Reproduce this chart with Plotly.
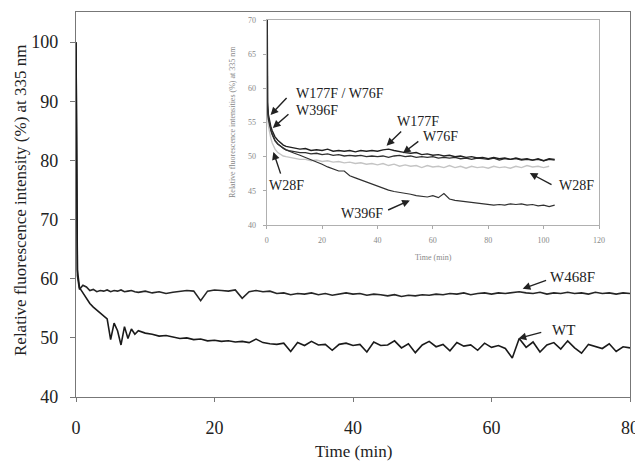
import plotly.graph_objects as go

# ---------------- main chart data ----------------
t_main = [0, 0.2, 0.5, 1, 1.5, 2, 2.5, 3, 3.5, 4, 4.5, 5, 5.5, 6, 6.5, 7, 7.5, 8, 8.5, 9,
          10, 11, 12, 13, 14, 15, 16, 17, 18, 19, 20, 21, 22, 23, 24, 25, 26, 27, 28, 29,
          30, 31, 32, 33, 34, 35, 36, 37, 38, 39, 40, 41, 42, 43, 44, 45, 46, 47, 48, 49,
          50, 51, 52, 53, 54, 55, 56, 57, 58, 59, 60, 61, 62, 63, 64, 65, 66, 67, 68, 69,
          70, 71, 72, 73, 74, 75, 76, 77, 78, 79, 80]

wt = [100, 61.5, 58.5, 57.6, 56.6, 55.8, 55.2, 54.7, 54.2, 53.7, 53.2, 49.7, 52.5, 51.2, 48.8, 51.9, 49.9, 51.5, 50.6, 51.2,
      50.8, 50.6, 50.3, 50.4, 50.1, 49.9, 50.0, 49.7, 49.8, 49.5, 49.6, 49.4, 49.5, 49.3, 49.4, 49.2, 49.8, 49.2, 49.0, 48.9,
      49.1, 47.7, 49.2, 48.7, 49.4, 48.8, 48.9, 47.9, 48.9, 49.1, 48.7, 48.9, 47.6, 49.3, 48.7, 48.8, 49.5, 48.3, 49.0, 47.5,
      48.8, 49.4, 48.5, 48.9, 47.8, 49.2, 48.6, 48.8, 47.9, 49.1, 48.4, 48.7, 48.2, 46.6, 49.9, 48.4, 49.3, 47.6, 48.8, 49.2,
      48.1, 49.5, 48.3, 47.4, 48.9, 48.5, 48.2, 49.0, 47.7, 48.5, 48.3]

w468f = [100, 60.5, 58.2, 58.9, 58.6, 58.0, 58.2, 57.8, 58.0, 57.9, 58.1, 57.8, 58.0, 57.9, 58.1, 57.8, 57.9, 58.0, 57.8, 57.7,
         57.9, 57.6, 57.8, 57.5, 57.7, 57.9, 58.0, 57.9, 56.3, 57.9, 58.1, 58.0, 57.9, 58.1, 56.7, 57.8, 58.0, 57.8, 57.9, 57.5,
         57.6, 57.3, 57.5, 57.4, 57.6, 57.3, 57.5, 57.2, 57.4, 57.6, 57.4, 57.5, 57.2, 57.4, 57.3, 57.1, 57.3, 57.0, 57.2, 57.1,
         57.3, 57.2, 57.4, 57.3, 57.5, 57.4, 57.6, 57.3, 57.5, 57.6, 57.4, 57.6, 57.5, 57.7, 57.8, 57.6, 57.5, 57.7, 57.4, 57.6,
         57.5, 57.7, 57.5, 57.6, 57.4, 57.7, 57.5, 57.6, 57.4, 57.6, 57.5]

main_xticks = [0, 20, 40, 60, 80]
main_yticks = [40, 50, 60, 70, 80, 90, 100]

# ---------------- inset data ----------------
t_in = [0, 0.3, 0.6, 1, 1.5, 2, 2.5, 3, 4, 5, 6, 7, 8,
        10, 12, 14, 16, 18, 20, 22, 24, 26, 28, 30, 32, 34, 36, 38, 40, 42, 44, 46, 48,
        50, 52, 54, 56, 58, 60, 62, 64, 66, 68, 70, 72, 74, 76, 78, 80, 82, 84, 86, 88,
        90, 92, 94, 96, 98, 100, 102, 104]

w177f = [100, 58.0, 56.2, 55.3, 54.4, 53.8, 53.3, 52.9, 52.4, 52.0, 51.7, 51.5, 51.4,
         51.2, 51.1, 51.2, 50.9, 51.0, 50.9, 51.1, 50.8, 50.9, 50.8, 50.9, 50.7, 50.9, 50.8, 50.9, 50.8, 51.0, 51.1, 50.9, 50.7,
         50.6, 50.5, 50.6, 50.3, 50.4, 50.2, 50.3, 50.1, 50.2, 50.0, 50.1, 49.9, 50.0, 49.8, 49.9, 49.7, 49.9, 49.7, 49.8, 49.6,
         49.8, 49.6, 49.7, 49.5, 49.7, 49.4, 49.7, 49.6]

w76f = [100, 57.0, 55.5, 54.6, 53.8, 53.2, 52.7, 52.3, 51.8, 51.5, 51.2, 51.0, 50.9,
        50.7, 50.6, 50.6, 50.4, 50.5, 50.3, 50.4, 50.2, 50.3, 50.1, 50.2, 50.1, 50.2, 50.0, 50.1, 50.0, 50.1, 49.9, 50.1, 50.2,
        50.0, 50.1, 49.9, 50.0, 49.9, 50.0, 49.8, 49.9, 49.8, 49.9, 49.7, 49.8, 49.6, 49.8, 49.7, 49.6, 49.8, 49.5, 49.7, 49.6,
        49.7, 49.5, 49.6, 49.5, 49.6, 49.4, 49.6, 49.5]

w28f = [100, 56.0, 54.5, 53.5, 52.7, 52.0, 51.5, 51.1, 50.6, 50.3, 50.1, 50.0, 49.9,
        49.7, 49.6, 49.6, 49.4, 49.5, 49.3, 49.4, 49.2, 49.3, 49.1, 49.2, 49.0, 49.1, 48.9, 49.0, 48.8, 49.0, 48.7, 48.9, 48.6,
        48.8, 48.6, 48.7, 48.4, 48.7, 48.5, 48.6, 48.4, 48.7, 48.4, 48.6, 48.3, 48.6, 48.4, 48.5, 48.3, 48.6, 48.4, 48.5, 48.3,
        48.6, 48.4, 48.7, 48.5, 48.6, 48.4, 48.6, None]

w396f = [100, 57.5, 55.8, 54.9, 54.0, 53.3, 52.8, 52.4, 51.9, 51.5, 51.2, 51.0, 50.8,
         50.5, 50.2, 49.9, 49.6, 49.2, 48.9, 48.5, 48.2, 47.9, 47.9, 47.2, 46.9, 46.6, 46.2, 45.9, 45.6, 45.3, 45.1, 44.9, 44.8,
         44.6, 44.5, 44.3, 44.2, 44.1, 44.3, 44.0, 44.6, 43.8, 43.6, 43.5, 43.4, 43.3, 43.1, 43.0, 42.9, 42.9, 43.0, 42.9, 43.1,
         43.0, 43.1, 42.9, 43.0, 42.8, 42.9, 42.7, 42.9]

inset_xticks = [0, 20, 40, 60, 80, 100, 120]
inset_yticks = [40, 45, 50, 55, 60, 65, 70]

SERIF = "Liberation Serif, Times New Roman, serif"
OFF = 8  # page body margin
W, H = 643 - OFF, 465 - OFF

def px_x(p):
    return (p - OFF) / W

def px_y(p):
    return 1 - (p - OFF) / H

fig = go.Figure()

fig.add_trace(go.Scatter(x=t_main, y=w468f, mode="lines", line=dict(color="#262626", width=1.6),
                         xaxis="x", yaxis="y", showlegend=False, cliponaxis=True))
fig.add_trace(go.Scatter(x=t_main, y=wt, mode="lines", line=dict(color="#1a1a1a", width=1.6),
                         xaxis="x", yaxis="y", showlegend=False, cliponaxis=True))

fig.add_trace(go.Scatter(x=t_in, y=w28f, mode="lines", line=dict(color="#c4c4c4", width=1.4),
                         xaxis="x2", yaxis="y2", showlegend=False, cliponaxis=True))
fig.add_trace(go.Scatter(x=t_in, y=w76f, mode="lines", line=dict(color="#303030", width=1.3),
                         xaxis="x2", yaxis="y2", showlegend=False, cliponaxis=True))
fig.add_trace(go.Scatter(x=t_in, y=w177f, mode="lines", line=dict(color="#202020", width=1.4),
                         xaxis="x2", yaxis="y2", showlegend=False, cliponaxis=True))
fig.add_trace(go.Scatter(x=t_in, y=w396f, mode="lines", line=dict(color="#303030", width=1.2),
                         xaxis="x2", yaxis="y2", showlegend=False, cliponaxis=True))

main_tickfont = dict(family=SERIF, size=18, color="#222")
inset_tickfont = dict(family=SERIF, size=8, color="#888")

fig.update_layout(
    width=W, height=H, autosize=False,
    margin=dict(l=0, r=0, t=0, b=0, autoexpand=False),
    paper_bgcolor="white", plot_bgcolor="white",
    xaxis=dict(domain=[px_x(76), px_x(630)], range=[0, 80], tickvals=main_xticks,
               showgrid=False, zeroline=False, showline=True, mirror=True, automargin=False,
               linecolor="#777", linewidth=1.2, ticks="outside", ticklen=4, tickcolor="#777",
               tickfont=main_tickfont, ticklabelstandoff=10, anchor="y"),
    yaxis=dict(domain=[px_y(397), px_y(12)], range=[40, 105.1], tickvals=main_yticks,
               showgrid=False, zeroline=False, showline=True, mirror=True, automargin=False,
               linecolor="#777", linewidth=1.2, ticks="outside", ticklen=5, tickcolor="#777",
               tickfont=main_tickfont, ticklabelstandoff=8, anchor="x"),
    xaxis2=dict(domain=[px_x(266.7), px_x(599)], range=[0, 120], tickvals=inset_xticks,
                showgrid=False, zeroline=False, showline=True, mirror=True, automargin=False,
                linecolor="#b0b0b0", linewidth=1, ticks="outside", ticklen=3, tickcolor="#aaa",
                tickfont=inset_tickfont, ticklabelstandoff=4, anchor="y2"),
    yaxis2=dict(domain=[px_y(225), px_y(20)], range=[40, 70], tickvals=inset_yticks,
                showgrid=False, zeroline=False, showline=True, mirror=True, automargin=False,
                linecolor="#b0b0b0", linewidth=1, ticks="outside", ticklen=3, tickcolor="#aaa",
                tickfont=inset_tickfont, ticklabelstandoff=5, anchor="x2"),
)

ann = []
# axis titles
ann.append(dict(text="Time (min)", x=px_x(353), y=px_y(451), xref="paper", yref="paper",
                showarrow=False, font=dict(family=SERIF, size=17, color="#222"),
                xanchor="center", yanchor="middle"))
ann.append(dict(text="Relative fluorescence intensity (%) at 335 nm", x=px_x(20), y=px_y(200),
                xref="paper", yref="paper", showarrow=False, textangle=-90,
                font=dict(family=SERIF, size=17, color="#222"), xanchor="center", yanchor="middle"))
ann.append(dict(text="Time (min)", x=px_x(433), y=px_y(257), xref="paper", yref="paper",
                showarrow=False, font=dict(family=SERIF, size=8, color="#888"),
                xanchor="center", yanchor="middle"))
ann.append(dict(text="Relative fluorescence intensities (%) at 335 nm", x=px_x(232), y=px_y(122),
                xref="paper", yref="paper", showarrow=False, textangle=-90,
                font=dict(family=SERIF, size=8, color="#888"), xanchor="center", yanchor="middle"))

# series labels (main)
lab_font = dict(family=SERIF, size=15, color="#222")
ann.append(dict(text="W468F", x=71.7, y=60.3, xref="x", yref="y", showarrow=False, font=lab_font))
ann.append(dict(text="WT", x=70.4, y=51.3, xref="x", yref="y", showarrow=False, font=lab_font))

def arrow(xr, yr, x, y, ax, ay):
    return dict(text="", x=x, y=y, ax=ax, ay=ay, xref=xr, yref=yr, axref=xr, ayref=yr,
                showarrow=True, arrowhead=2, arrowsize=1.1, arrowwidth=1.4, arrowcolor="#222",
                standoff=0, startstandoff=0)

ann.append(arrow("x", "y", 64.5, 58.3, 68.1, 59.8))
ann.append(arrow("x", "y", 63.9, 49.9, 67.4, 51.0))

# inset labels
in_font = dict(family=SERIF, size=14, color="#222")
for txt, x, y in [("W177F / W76F", 26.3, 59.3), ("W396F", 18.0, 56.8), ("W28F", 7.2, 45.8),
                  ("W177F", 54.6, 55.2), ("W76F", 62.8, 53.0), ("W28F", 111.9, 45.8),
                  ("W396F", 34.3, 41.7)]:
    ann.append(dict(text=txt, x=x, y=y, xref="x2", yref="y2", showarrow=False, font=in_font))

ann.append(arrow("x2", "y2", 1.4, 56.1, 7.7, 58.8))
ann.append(arrow("x2", "y2", 2.2, 54.2, 8.4, 56.4))
ann.append(arrow("x2", "y2", 2.4, 50.7, 5.2, 47.3))
ann.append(arrow("x2", "y2", 43.3, 51.6, 49.1, 53.9))
ann.append(arrow("x2", "y2", 49.2, 50.5, 55.3, 52.4))
ann.append(arrow("x2", "y2", 95.0, 47.6, 103.4, 45.8))
ann.append(arrow("x2", "y2", 51.7, 43.6, 43.3, 42.1))

fig.update_layout(annotations=ann)
fig.write_html("out.html")
